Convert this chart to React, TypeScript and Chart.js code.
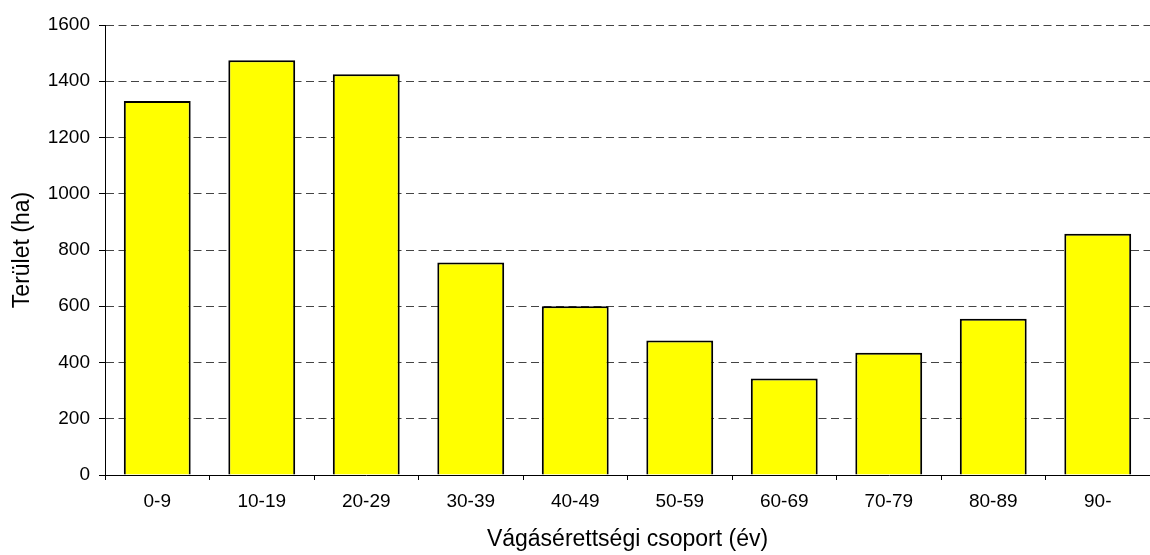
import React, { useEffect, useRef } from "react";
import { Chart, registerables } from "chart.js";

Chart.register(...registerables);

const categories = ["0-9", "10-19", "20-29", "30-39", "40-49", "50-59", "60-69", "70-79", "80-89", "90-"];
const areaValues = [1330, 1475, 1425, 756, 600, 478, 343, 435, 556, 858];
const yTickValues = [0, 200, 400, 600, 800, 1000, 1200, 1400, 1600];
const xTitle = "Vágásérettségi csoport (év)";
const yTitle = "Terület (ha)";

const FONT = "'Liberation Sans', Arial, sans-serif";

export default function App() {
  const canvasRef = useRef<HTMLCanvasElement | null>(null);

  useEffect(() => {
    const canvas = canvasRef.current;
    if (!canvas) return;
    const chart = new Chart(canvas, {
      type: "bar",
      data: {
        labels: categories,
        datasets: [
          {
            data: areaValues,
            backgroundColor: "#FFFF00",
            borderColor: "#000000",
            borderWidth: 2,
            barPercentage: 0.64,
            categoryPercentage: 1,
          },
        ],
      },
      options: {
        animation: false,
        responsive: false,
        devicePixelRatio: 1,
        layout: { padding: { top: 25, right: 0, left: 0, bottom: 0 } },
        plugins: {
          legend: { display: false },
          tooltip: { enabled: false },
        },
        scales: {
          x: {
            type: "category",
            offset: true,
            grid: {
              display: true,
              drawOnChartArea: false,
              drawTicks: true,
              tickLength: 5,
              tickColor: "#000",
              offset: true,
            },
            border: { display: true, color: "#000", width: 1 },
            ticks: {
              color: "#000",
              font: { family: FONT, size: 19 },
              padding: 10,
              maxRotation: 0,
              autoSkip: false,
            },
            title: {
              display: true,
              text: xTitle,
              color: "#000",
              font: { family: FONT, size: 23 },
              padding: { top: 0, bottom: 2 },
            },
            afterFit: (scale: any) => {
              scale.height = 80;
            },
          },
          y: {
            min: 0,
            max: 1600,
            afterBuildTicks: (scale: any) => {
              scale.ticks = yTickValues.map((v) => ({ value: v }));
            },
            grid: {
              color: "#444",
              lineWidth: 1,
              drawTicks: true,
              tickLength: 6,
              tickColor: "#000",
              tickBorderDash: [],
            },
            border: { display: true, color: "#000", width: 1, dash: [8, 4.5] },
            ticks: {
              color: "#000",
              font: { family: FONT, size: 19 },
              padding: 9,
              callback: (value: any) => String(value),
            },
            title: {
              display: true,
              text: yTitle,
              color: "#000",
              font: { family: FONT, size: 23 },
              padding: { top: 9, bottom: 0 },
            },
            afterFit: (scale: any) => {
              scale.width = 105;
            },
          },
        },
      },
    });
    return () => chart.destroy();
  }, []);

  return (
    <div style={{ position: "fixed", left: 0, top: 0, width: 1150, height: 555, background: "#fff" }}>
      <canvas ref={canvasRef} width={1150} height={555} style={{ width: 1150, height: 555, display: "block" }} />
    </div>
  );
}
